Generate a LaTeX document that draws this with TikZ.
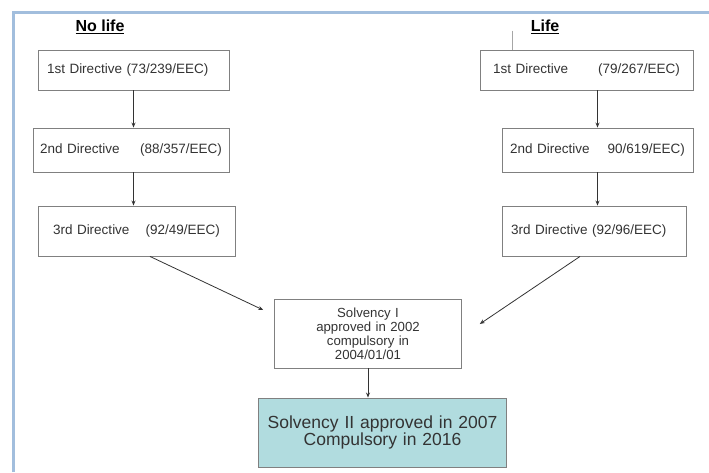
\documentclass[tikz,border=0pt]{standalone}
\usepackage{fontspec}
\setmainfont{Liberation Sans}
\usetikzlibrary{arrows.meta,positioning,calc}
\definecolor{framecol}{HTML}{A2BEDD}
\definecolor{tealfill}{HTML}{B1DCDF}
\definecolor{inkcol}{HTML}{333333}

\begin{document}
\begin{tikzpicture}[x=1pt, y=-1pt, >={Stealth[length=5pt,width=4pt]},
  dirbox/.style={draw=gray, line width=0.9pt, align=left, text=inkcol,
    font=\fontsize{13.5}{16}\selectfont},
  head/.style={text=black, font=\bfseries\fontsize{16}{19}\selectfont},
  link/.style={->, draw=inkcol, line width=0.8pt}]
\useasboundingbox (0,0) rectangle (709,472);
% frame on top and left
\draw[framecol, line width=3pt] (13.5,472) -- (13.5,12.5) -- (709,12.5);
% no life
\node[head] (nolife) at (100,27) {\underline{No life}};
\node[dirbox, inner xsep=9pt, text width=173pt, minimum height=40pt] (nl1) at (133.5,70) {1st Directive (73/239/EEC)};
\node[dirbox, inner xsep=7pt, text width=182pt, minimum height=44pt] (nl2) at (131,150) {2nd Directive\hfill(88/357/EEC)};
\node[dirbox, inner xsep=15pt, text width=167pt, minimum height=50pt] (nl3) at (136.5,231) {3rd Directive\hfill(92/49/EEC)};
% life
\node[head] (life) at (545,27) {\underline{Life}};
\node[dirbox, inner xsep=13pt, text width=187pt, minimum height=40pt] (l1) at (586.5,70) {1st Directive\hfill(79/267/EEC)};
\node[dirbox, inner xsep=8pt, text width=175pt, minimum height=44pt] (l2) at (597.5,150) {2nd Directive\hfill90/619/EEC)};
\node[dirbox, inner xsep=9pt, text width=166pt, minimum height=50pt] (l3) at (594,231) {3rd Directive (92/96/EEC)};
\coordinate (tick) at ($(l1.north west)+(33,-19)$);
\draw[gray!70, line width=0.8pt] (tick) -- (tick |- l1.north);
% solvency
\node[dirbox, align=center, text width=180pt, minimum height=69pt,
  font=\fontsize{13.2}{14}\selectfont] (s1) at (368,333.5)
  {Solvency I\\ approved in 2002\\ compulsory in\\ 2004/01/01};
\node[dirbox, fill=tealfill, align=center, text width=241pt, minimum height=69pt,
  font=\fontsize{17.5}{17}\selectfont] (s2) at (382.5,432.5)
  {Solvency II approved in 2007\\ Compulsory in 2016};
% arrows
\draw[link] (nl1.south) -- (nl1.south |- nl2.north);
\draw[link] (nl2.south -| nl1.south) -- (nl1.south |- nl3.north);
\draw[link] (l1.south -| l2.center) -- (l2.north);
\draw[link] (l2.south) -- (l2.south |- l3.north);
\coordinate (nlend) at ($(s1.west)+(-11,-23.5)$);
\coordinate (lend) at ($(s1.east)+(18,-9.5)$);
\draw[link] ($(nl3.south)+(13.5,0)$) -- (nlend);
\draw[link] ($(l3.south)+(-14,0)$) -- (lend);
\draw[link] (s1.south) -- (s1.south |- s2.north);
\end{tikzpicture}
\end{document}
